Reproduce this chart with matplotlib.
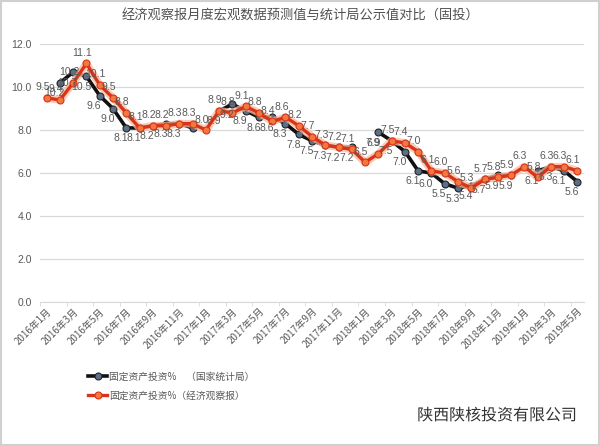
import numpy as np
import matplotlib
matplotlib.use("Agg")
import matplotlib.pyplot as plt
import matplotlib.patheffects as pe
from matplotlib.patches import Rectangle

plt.rcParams['font.family'] = ['Noto Sans CJK SC', 'DejaVu Sans']

# ========== Data ==========
months = [f"{y}年{m}月" for y in (2016, 2017, 2018) for m in range(1, 13)] + \
         [f"2019年{m}月" for m in range(1, 6)]

nan = np.nan
# 国家统计局 (actual)
nbs = [nan, 10.2, 10.7, 10.5, 9.6, 9.0, 8.1, 8.1, 8.2, 8.3, 8.3, 8.1,
       nan, 8.9, 9.2, 8.9, 8.6, 8.6, 8.3, 7.8, 7.5, 7.3, 7.2, 7.2,
       nan, 7.9, 7.5, 7.0, 6.1, 6.0, 5.5, 5.3, 5.4, 5.7, 5.9, 5.9,
       nan, 6.1, 6.3, 6.1, 5.6]
# 经济观察报 (forecast)
eeo = [9.5, 9.4, 10.2, 11.1, 10.1, 9.5, 8.8, 8.1, 8.2, 8.2, 8.3, 8.3,
       8.0, 8.9, 8.8, 9.1, 8.8, 8.4, 8.6, 8.2, 7.7, 7.3, 7.2, 7.1,
       6.5, 6.9, 7.5, 7.4, 7.0, 6.1, 6.0, 5.6, 5.3, 5.7, 5.8, 5.9,
       6.3, 5.8, 6.3, 6.3, 6.1]
# black points whose label is hidden in the original
nbs_unlabeled = [11]

title = "经济观察报月度宏观数据预测值与统计局公示值对比（固投）"
label_nbs = "固定资产投资%　（国家统计局）"
label_eeo = "固定资产投资%（经济观察报）"
watermark = "陕西陕核投资有限公司"

GRAY = "#595959"
NUM_FONT = ['Liberation Sans', 'DejaVu Sans']

# ========== Figure ==========
fig = plt.figure(figsize=(6.0, 4.46), dpi=100)
ax = fig.add_axes([0.0667, 0.323, 0.9067, 0.578])

x = np.arange(len(months))

ax.plot(x, nbs, color="#111111", lw=2.6, marker="o", ms=5,
        mfc="#5b7086", mec="#222222", mew=0.8, zorder=3, label=label_nbs)
# soft orange glow under the red line
ax.plot(x, eeo, color="#f9b99c", lw=5.5, alpha=0.75, zorder=3.5,
        solid_capstyle="round")
ax.plot(x, eeo, color="#d9341a", lw=2.4, marker="o", ms=5,
        mfc="#f2783f", mec="#d9341a", mew=0.8, zorder=4, label=label_eeo)

# data labels: red above, black below
for i, v in enumerate(eeo):
    ax.annotate(f"{v:.1f}", (i, v), xytext=(-3, 4), textcoords="offset points",
                ha="center", va="bottom", fontsize=7.5, color=GRAY, zorder=5,
                family=NUM_FONT)
for i, v in enumerate(nbs):
    if np.isnan(v) or i in nbs_unlabeled:
        continue
    ax.annotate(f"{v:.1f}", (i, v), xytext=(-4, -4), textcoords="offset points",
                ha="center", va="top", fontsize=7.5, color=GRAY, zorder=5,
                family=NUM_FONT)

ax.set_xlim(-0.5, len(months) - 0.5)
ax.set_ylim(0, 12)
yt = np.arange(0, 12.1, 2)
ax.set_yticks(yt)
ax.set_yticklabels([f"{t:.1f}" for t in yt], family=NUM_FONT)
ax.yaxis.grid(True, color="#d9d9d9", lw=0.9)
ax.set_axisbelow(True)

ax.set_xticks(x[::2])
ax.set_xticklabels(months[::2], rotation=45, ha="right", rotation_mode="anchor")
ax.set_xticks(np.arange(-0.5, len(months), 2), minor=True)
ax.tick_params(axis="x", which="major", length=0, labelsize=7, colors=GRAY, pad=3)
ax.tick_params(axis="x", which="minor", length=3, color="#d9d9d9")
ax.tick_params(axis="y", length=0, labelsize=7.5, colors=GRAY, pad=6)

for s in ("top", "right", "left"):
    ax.spines[s].set_visible(False)
ax.spines["bottom"].set_color("#d9d9d9")

fig.text(0.5, 0.965, title, ha="center", va="center", fontsize=9.5, color="#505050")

leg = fig.legend(loc="upper left", bbox_to_anchor=(0.14, 0.175), frameon=False,
                 fontsize=7, handlelength=2.0, handletextpad=0.2, labelspacing=0.9,
                 borderaxespad=0)
for t in leg.get_texts():
    t.set_color(GRAY)

fig.text(0.962, 0.068, watermark, ha="right", va="center", fontsize=11.5,
         color="#333333",
         path_effects=[pe.withStroke(linewidth=2.5, foreground="white")])

fig.patches.append(Rectangle((0.002, 0.002), 0.996, 0.996, transform=fig.transFigure,
                             fill=False, edgecolor="#d0d0d0", lw=1.5))

fig.savefig("out.png", dpi=100, facecolor="white")
